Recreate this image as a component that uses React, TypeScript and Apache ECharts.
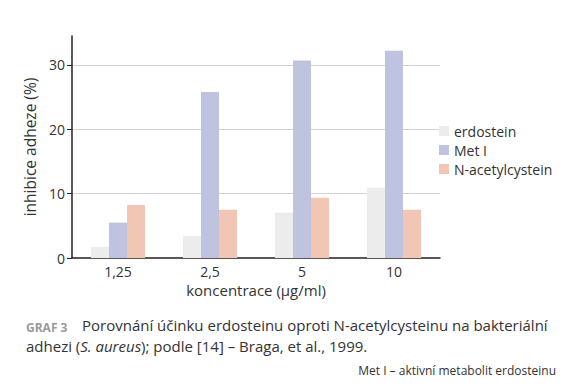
import React, { useEffect, useRef } from "react";
import * as echarts from "echarts";

const categories = ["1,25", "2,5", "5", "10"];
const erdostein = [1.7, 3.4, 7.05, 10.9];
const metI = [5.5, 25.8, 30.7, 32.2];
const nac = [8.25, 7.5, 9.35, 7.5];
const yTicks = [0, 10, 20, 30];
const seriesNames = ["erdostein", "Met I", "N-acetylcystein"];
const colors = ["#ececec", "#c0c3df", "#f1c6b4"];

const FONT = "'Open Sans', 'Noto Sans', sans-serif";

export default function App() {
  const ref = useRef<HTMLDivElement>(null);
  useEffect(() => {
    if (!ref.current) return;
    const chart = echarts.init(ref.current, undefined, { renderer: "svg" });
    const data = [erdostein, metI, nac];
    chart.setOption({
      animation: false,
      textStyle: { fontFamily: FONT },
      grid: { left: 72, right: 128, top: 36, bottom: 128 },
      legend: {
        orient: "vertical",
        left: 439,
        top: 124,
        padding: 0,
        itemWidth: 10,
        itemHeight: 10,
        itemGap: 5,
        icon: "rect",
        data: seriesNames,
        textStyle: { fontSize: 14, color: "#333", fontFamily: FONT },
      },
      xAxis: {
        type: "category",
        data: categories,
        name: "koncentrace (µg/ml)",
        nameLocation: "middle",
        nameGap: 21,
        nameTextStyle: { fontSize: 15, color: "#333", fontFamily: FONT },
        axisLine: { lineStyle: { color: "#222", width: 1.5 } },
        axisTick: { show: false },
        axisLabel: { fontSize: 14, color: "#333", margin: 6, fontFamily: FONT },
      },
      yAxis: {
        type: "value",
        min: 0,
        max: 34.5,
        interval: 10,
        name: "inhibice adheze (%)",
        nameLocation: "middle",
        nameGap: 31,
        nameTextStyle: { fontSize: 15.5, color: "#333", fontFamily: FONT },
        axisLine: { show: true, lineStyle: { color: "#222", width: 1.5 } },
        axisTick: { show: true, length: 5, customValues: yTicks, lineStyle: { color: "#222" } },
        axisLabel: { fontSize: 14, color: "#333", margin: 7, customValues: yTicks, fontFamily: FONT },
        splitLine: { show: true, showMinLine: false, lineStyle: { color: "#d2d2d2", width: 1 } },
      },
      series: seriesNames.map((name, i) => ({
        name,
        type: "bar",
        data: data[i],
        barWidth: 18,
        barGap: "0%",
        itemStyle: { color: colors[i] },
      })),
      graphic: [
        {
          type: "text",
          left: 26,
          top: 321,
          style: { text: "GRAF 3", fontSize: 12, fontWeight: "bold", fill: "#9a9a9a", fontFamily: FONT },
        },
        {
          type: "text",
          left: 82,
          top: 317,
          style: {
            text: "Porovnání účinku erdosteinu oproti N-acetylcysteinu na bakteriální",
            fontSize: 15,
            fill: "#333",
            fontFamily: FONT,
          },
        },
        {
          type: "text",
          left: 26,
          top: 338,
          style: {
            text: "adhezi ({i|S. aureus}); podle [14] – Braga, et al., 1999.",
            fontSize: 15,
            fill: "#333",
            fontFamily: FONT,
            rich: { i: { fontStyle: "italic", fontSize: 15, fill: "#333", fontFamily: FONT } },
          },
        },
        {
          type: "text",
          right: 12,
          top: 364,
          style: { text: "Met I – aktivní metabolit erdosteinu", fontSize: 12, fill: "#333", fontFamily: FONT },
        },
      ],
    });
    return () => chart.dispose();
  }, []);
  return (
    <div
      ref={ref}
      style={{ position: "fixed", left: 0, top: 0, width: 568, height: 386, background: "#fff" }}
    />
  );
}
